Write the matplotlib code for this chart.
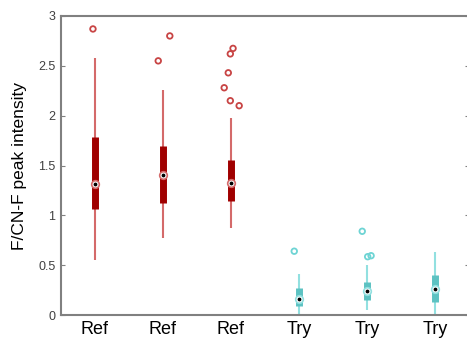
import numpy as np
import matplotlib
matplotlib.use('Agg')
import matplotlib.pyplot as plt

plt.rcParams['font.family'] = ['Liberation Sans', 'DejaVu Sans']

""" Data read off the reference (compact MATLAB-style boxplots) """
labels = ['Ref', 'Ref', 'Ref', 'Try', 'Try', 'Try']
groups = ['ref', 'ref', 'ref', 'try', 'try', 'try']
q1 = [1.06, 1.12, 1.14, 0.09, 0.15, 0.13]
median = [1.31, 1.40, 1.32, 0.16, 0.24, 0.26]
q3 = [1.79, 1.70, 1.555, 0.27, 0.33, 0.40]
whisk_lo = [0.55, 0.77, 0.87, 0.0, 0.05, 0.0]
whisk_hi = [2.58, 2.26, 1.98, 0.41, 0.50, 0.63]
outliers = [[2.87],
            [2.55, 2.80],
            [2.28, 2.43, 2.62, 2.675, 2.15, 2.10],
            [0.64],
            [0.84, 0.585, 0.595],
            []]
# horizontal jitter of outliers (in box units)
jitter = [[-0.03],
          [-0.07, 0.10],
          [-0.10, -0.04, -0.01, 0.03, -0.01, 0.12],
          [-0.07],
          [-0.07, 0.01, 0.06],
          []]
yticks = [0, 0.5, 1, 1.5, 2, 2.5, 3]

colors = {
    'ref': dict(box='#a00000', whisker='#d46a6a', flier='#c84444'),
    'try': dict(box='#5cc2c2', whisker='#92e0e0', flier='#6ed4d4'),
}

fig = plt.figure(figsize=(4.67, 3.43), dpi=100)
ax = fig.add_axes([61 / 467, 28 / 343, 408 / 467, 299 / 343])

pos = np.arange(1, len(labels) + 1)
for i, p in enumerate(pos):
    c = colors[groups[i]]
    # whisker line
    ax.vlines(p, whisk_lo[i], whisk_hi[i], color=c['whisker'], lw=1.5, zorder=2)
    # compact box
    ax.vlines(p, q1[i], q3[i], color=c['box'], lw=5, zorder=3)
    # outliers
    if outliers[i]:
        ax.scatter(p + np.array(jitter[i]), outliers[i], s=16, facecolor='none',
                   edgecolor=c['flier'], lw=1.3, zorder=4)
    # median: white circle with coloured edge and black dot
    ax.scatter([p], [median[i]], s=30, facecolor='white',
               edgecolor=c['whisker'], lw=1.2, zorder=5)
    ax.scatter([p], [median[i]], s=3, color='black', zorder=6)

ax.set_xlim(0.5, len(labels) + 0.5)
ax.set_ylim(0, 3)
ax.set_yticks(yticks)
ax.set_yticklabels([f'{t:g}' for t in yticks], fontsize=9, color='#404040')
ax.set_xticks(pos)
ax.set_xticklabels(labels, fontsize=13)
ax.tick_params(axis='x', length=0, pad=4)
ax.tick_params(axis='y', direction='in', length=3, color='#808080', right=True, pad=4)
for s in ax.spines.values():
    s.set_color('#808080')
    s.set_linewidth(1.5)
ax.set_ylabel('F/CN-F peak intensity', fontsize=12.5, labelpad=8)

fig.savefig('out.png', dpi=100)
